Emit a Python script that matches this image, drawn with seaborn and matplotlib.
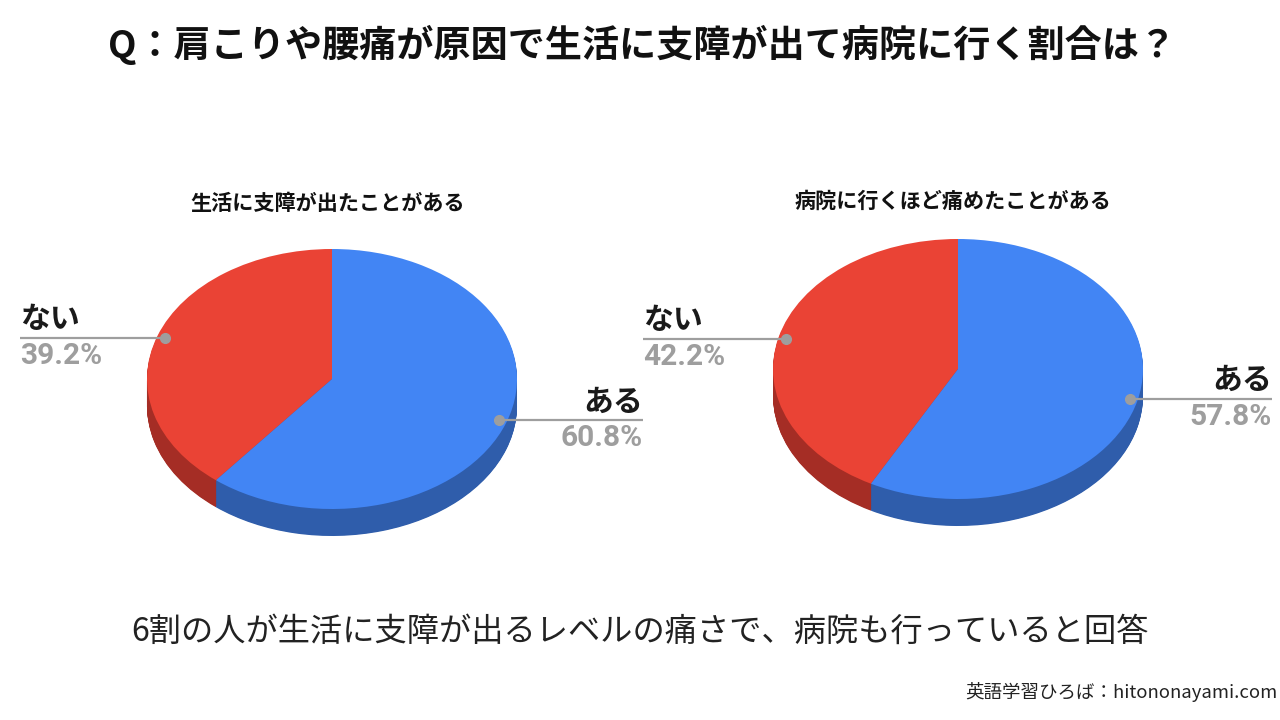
import numpy as np
import pandas as pd
import matplotlib
matplotlib.use('Agg')
import matplotlib.pyplot as plt
import seaborn as sns

# data
title = 'Q：肩こりや腰痛が原因で生活に支障が出て病院に行く割合は？'
pie_titles = ['生活に支障が出たことがある', '病院に行くほど痛めたことがある']
answers = ['ない', 'ある']
life_vals = [39.2, 60.8]
hospital_vals = [42.2, 57.8]
summary = '6割の人が生活に支障が出るレベルの痛さで、病院も行っていると回答'
source = '英語学習ひろば：hitononayami.com'

top_colors = ['#EA4335', '#4285F4']
side_colors = ['#A52D25', '#2F5DAB']

sns.set_theme(style='white')
plt.rcParams['font.family'] = ['Noto Sans CJK JP', 'DejaVu Sans']

W, H = 1280, 720
fig = plt.figure(figsize=(12.8, 7.2), dpi=100)
fig.patch.set_facecolor('white')

# overlay axes in pixel coords for text / leader lines
ov = fig.add_axes([0, 0, 1, 1], zorder=5)
ov.set_xlim(0, W)
ov.set_ylim(H, 0)
ov.axis('off')
ov.patch.set_alpha(0)

ov.text(642, 45, title, ha='center', va='center', fontsize=26.7, fontweight='bold', color='#111111')
ov.text(640, 632, summary, ha='center', va='center', fontsize=23.2, color='#222222')
ov.text(1277, 692, source, ha='right', va='center', fontsize=13.3, color='#222222')

# layout of each pie: centre (px from top), radii, depth, label line ends
layouts = [
    dict(cx=332, cy=379, title_x=328, title_y=203, left_end=20, right_end=643),
    dict(cx=958, cy=369, title_x=953, title_y=201, left_end=643, right_end=1272),
]
rx, ry, depth = 185, 130, 27

for vals, ptitle, lay in zip([life_vals, hospital_vals], pie_titles, layouts):
    cx, cy = lay['cx'], lay['cy']
    ax = fig.add_axes([(cx - 1.05 * rx) / W, (H - cy - 1.3 * ry) / H,
                       2.1 * rx / W, 2.35 * ry / H])
    # side (stacked darker pies)
    for off in np.linspace(depth / ry, 0.01, 40):
        ax.pie(vals, colors=side_colors, startangle=90, counterclock=True,
               center=(0, -off), radius=1, wedgeprops=dict(linewidth=0))
    wedges, _ = ax.pie(vals, colors=top_colors, startangle=90, counterclock=True,
                       center=(0, 0), radius=1, wedgeprops=dict(linewidth=0))
    ax.set_aspect('auto')
    ax.set_xlim(-1.05, 1.05)
    ax.set_ylim(-1.3, 1.05)
    ax.axis('off')

    ov.text(lay['title_x'], lay['title_y'], ptitle, ha='center', va='center',
            fontsize=15.2, fontweight='bold', color='#111111')

    for w, lab, v in zip(wedges, answers, vals):
        mid = np.deg2rad((w.theta1 + w.theta2) / 2)
        px = cx + rx * 0.957 * np.cos(mid)
        py = cy - ry * 0.957 * np.sin(mid)
        if np.cos(mid) < 0:
            xe, ha = lay['left_end'], 'left'
        else:
            xe, ha = lay['right_end'], 'right'
        ov.plot([px, xe], [py, py], color='#9E9E9E', lw=1.6, solid_capstyle='butt')
        ov.plot([px], [py], 'o', color='#9E9E9E', ms=7)
        ov.text(xe, py - 4, lab, ha=ha, va='bottom', fontsize=21.5, fontweight='bold',
                color='#1A1A1A')
        ov.text(xe, py + 4, f'{v:.1f}%', ha=ha, va='top', fontsize=21.5, fontweight='bold',
                color='#9E9E9E', family=['Roboto', 'DejaVu Sans'])

fig.savefig('out.png', dpi=100, facecolor='white')
